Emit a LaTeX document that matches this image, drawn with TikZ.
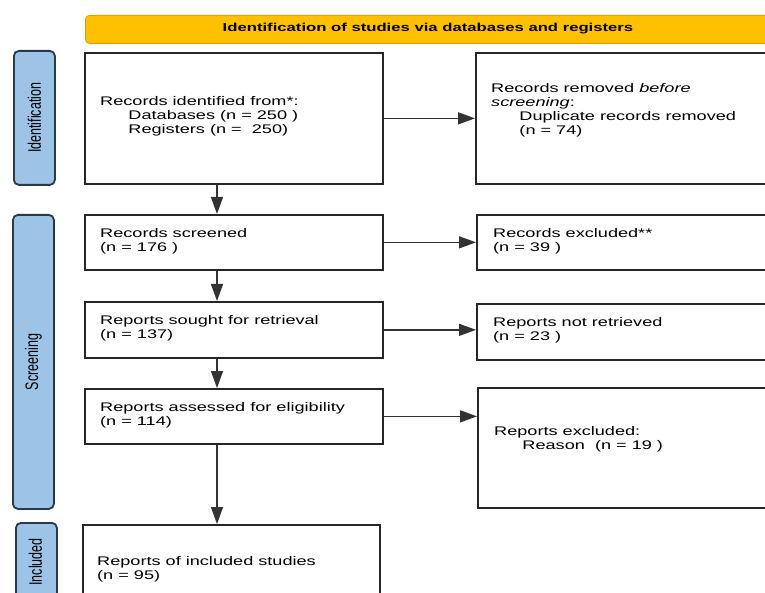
\documentclass[tikz,border=0pt]{standalone}
\usepackage{fontspec}
\setmainfont{Liberation Sans}
\usepackage{graphicx}
\usetikzlibrary{arrows.meta}
\definecolor{banner}{HTML}{FFC000}
\definecolor{bannerline}{HTML}{D9A400}
\definecolor{sidefill}{HTML}{9DC3E6}
\definecolor{sideline}{HTML}{2B3A4A}
\newcommand\tx[1]{\scalebox{1.45}[1]{\begin{tabular}{@{}l@{}}#1\end{tabular}}}
\newcommand\vt[1]{\scalebox{1}[1.45]{#1}}
\newcommand\ind{\hspace*{19.5pt}}
\begin{document}
\begin{tikzpicture}[x=1pt,y=-1pt,
 box/.style={draw=black!85,line width=1.7pt,inner sep=0,anchor=north west},
 side/.style={draw=sideline,fill=sidefill,line width=1.8pt,rounded corners=5pt,inner sep=0,anchor=north west},
 txt/.style={anchor=west,inner sep=0,font=\fontsize{12.5}{14}\selectfont},
 arr/.style={draw=black!80,line width=1.3pt,-{Triangle[length=17pt,width=12pt]}},
 vlab/.style={rotate=90,inner sep=0,font=\fontsize{12.5}{14}\selectfont}]
\useasboundingbox (0,0) rectangle (765,593);
\fill[white] (0,0) rectangle (765,593);
\clip (0,0) rectangle (765,593);
% banner
\node[draw=bannerline,fill=banner,rounded corners=4pt,anchor=north west,minimum width=690pt,minimum height=28pt,line width=0.8pt,inner sep=0] (ban) at (85,15) {};
\node[inner sep=0,font=\fontsize{11.5}{14}\selectfont\bfseries] (bant) at (428,29) {\scalebox{1.45}[1]{Identification of studies via databases and registers}};
% side labels
\node[side,minimum width=41pt,minimum height=134pt] (s1) at (13,50) {};
\node[vlab] (s1t) at (s1.center) {\vt{Identification}};
\node[side,minimum width=41pt,minimum height=294pt] (s2) at (12,214) {};
\node[vlab] (s2t) at (s2.center) {\vt{Screening}};
\node[side,minimum width=41pt,minimum height=100pt] (s3) at (15,522) {};
\node[vlab] (s3t) at (35.5,562) {\vt{Included}};
% left boxes
\node[box,minimum width=298pt,minimum height=131pt] (b1) at (84,52) {};
\node[box,minimum width=298pt,minimum height=55pt] (scr) at (84,214) {};
\node[box,minimum width=298pt,minimum height=56pt] (sou) at (84,301) {};
\node[box,minimum width=298pt,minimum height=55pt] (ass) at (84,388) {};
\node[box,minimum width=297pt,minimum height=100pt] (inc) at (82,524) {};
% right boxes
\node[box,minimum width=320pt,minimum height=131pt] (rem) at (475,52) {};
\node[box,minimum width=320pt,minimum height=55pt] (exc) at (476,214) {};
\node[box,minimum width=320pt,minimum height=56pt] (nr) at (476,303) {};
\node[box,minimum width=320pt,minimum height=120pt] (rex) at (477,387) {};
% texts
\node[txt] (t1) at (100,117) {\tx{Records identified from*:\\ \ind Databases (n = 250 )\\ \ind Registers (n = \ 250)}};
\node[txt] (t2) at (100,242) {\tx{Records screened\\ (n = 176 )}};
\node[txt] (t3) at (100,329) {\tx{Reports sought for retrieval\\ (n = 137)}};
\node[txt] (t4) at (100,416) {\tx{Reports assessed for eligibility\\ (n = 114)}};
\node[txt] (t5) at (97,570) {\tx{Reports of included studies\\ (n = 95)}};
\node[txt] (t6) at (491,110.5) {\tx{Records removed \textit{before}\\ \textit{screening}:\\ \ind Duplicate records removed\\ \ind (n = 74)}};
\node[txt] (t7) at (493,242) {\tx{Records excluded**\\ (n = 39 )}};
\node[txt] (t8) at (493,331) {\tx{Reports not retrieved\\ (n = 23 )}};
\node[txt] (t9) at (494,440) {\tx{Reports excluded:\\ \ind Reason \ (n = 19 )}};
% connectors
\coordinate (ax) at (217,0);
\draw[arr] (b1.east) -- (rem.west |- b1.east);
\draw[arr] (scr.east) -- (exc.west |- scr.east);
\draw[arr] (sou.east) -- (nr.west |- sou.east);
\draw[arr] (ass.east) -- (rex.west |- ass.east);
\draw[arr] (b1.south -| ax) -- (scr.north -| ax);
\draw[arr] (scr.south -| ax) -- (sou.north -| ax);
\draw[arr] (sou.south -| ax) -- (ass.north -| ax);
\draw[arr] (ass.south -| ax) -- (inc.north -| ax);
\end{tikzpicture}
\end{document}
